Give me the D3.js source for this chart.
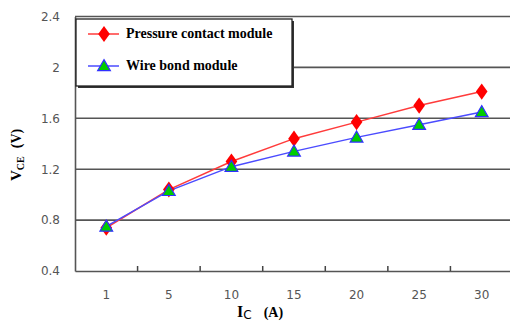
<!DOCTYPE html>
<html>
<head>
<meta charset="utf-8">
<script src="https://cdn.jsdelivr.net/npm/d3@7"></script>
<style>
  body { margin: 0; background: #fff; }
  svg { display: block; }
</style>
</head>
<body>
<svg width="510" height="323"></svg>
<script>
// data
var currents = ["1", "5", "10", "15", "20", "25", "30"]
var pressureContact = [0.74, 1.04, 1.26, 1.44, 1.57, 1.70, 1.81]
var wireBond = [0.75, 1.03, 1.22, 1.34, 1.45, 1.55, 1.65]
var yTicks = [0.4, 0.8, 1.2, 1.6, 2, 2.4]

var svg = d3.select("svg")
// note: "top" is a reserved window global, so plot* names
var plotLeft = 75, plotRight = 513, plotTop = 16.5, plotBottom = 271

var x = d3.scaleBand().domain(currents).range([plotLeft, plotRight])
var y = d3.scaleLinear().domain([0.4, 2.4]).range([plotBottom, plotTop])

// grid lines
svg.selectAll("line.grid")
  .data(yTicks.slice(1))
  .enter().append("line")
    .attr("class", "grid")
    .attr("x1", plotLeft).attr("x2", plotRight)
    .attr("y1", function(d) { return y(d) })
    .attr("y2", function(d) { return y(d) })
    .style("stroke", "#555")
    .style("stroke-width", 1.6)

// y axis
var yAxis = svg.append("g")
  .attr("transform", "translate(" + plotLeft + ",0)")
  .call(d3.axisLeft(y).tickValues(yTicks).tickSize(0).tickPadding(15)
    .tickFormat(function(d) { return d === 2 ? "2" : d3.format(".1f")(d) }))
yAxis.select(".domain").style("stroke", "#555").style("stroke-width", 1.6)
yAxis.selectAll("text")
  .style("font-family", "DejaVu Sans")
  .style("font-size", "12px")
  .style("fill", "#555")

// x axis, ticks between categories pointing up
var xAxis = svg.append("g")
  .attr("transform", "translate(0," + plotBottom + ")")
  .call(d3.axisBottom(x).tickSize(0).tickPadding(19))
xAxis.select(".domain").style("stroke", "#555").style("stroke-width", 1.6)
xAxis.selectAll("text")
  .style("font-family", "DejaVu Sans")
  .style("font-size", "12px")
  .style("fill", "#555")
xAxis.selectAll("line.sep")
  .data(currents.slice(1))
  .enter().append("line")
    .attr("class", "sep")
    .attr("x1", function(d) { return x(d) })
    .attr("x2", function(d) { return x(d) })
    .attr("y1", 0).attr("y2", -5)
    .style("stroke", "#444")
    .style("stroke-width", 1.5)

var cx = function(d, i) { return x(currents[i]) + x.bandwidth() / 2 }
var line = d3.line().x(cx).y(function(d) { return y(d) })

var diamond = d3.symbol().type(d3.symbolDiamond).size(75)
var triangle = d3.symbol().type(d3.symbolTriangle).size(70)

// series lines
svg.append("path").datum(pressureContact)
  .attr("d", line)
  .style("fill", "none").style("stroke", "#ff3b3b").style("stroke-width", 1.5)
svg.append("path").datum(wireBond)
  .attr("d", line)
  .style("fill", "none").style("stroke", "#4b4bff").style("stroke-width", 1.5)

// markers
svg.selectAll("path.pc")
  .data(pressureContact)
  .enter().append("path")
    .attr("class", "pc")
    .attr("d", diamond)
    .attr("transform", function(d, i) { return "translate(" + cx(d, i) + "," + y(d) + ") scale(1.25,1)" })
    .style("fill", "#ff0000")
svg.selectAll("path.wb")
  .data(wireBond)
  .enter().append("path")
    .attr("class", "wb")
    .attr("d", triangle)
    .attr("transform", function(d, i) { return "translate(" + cx(d, i) + "," + (y(d) + 1) + ")" })
    .style("fill", "#00cc00")
    .style("stroke", "#3030ff")
    .style("stroke-width", 1.2)

// legend with shadow
var lg = svg.append("g")
lg.append("rect")
  .attr("x", 78).attr("y", 21).attr("width", 216).attr("height", 67)
  .style("fill", "#333")
lg.append("rect")
  .attr("x", 76).attr("y", 19).attr("width", 216).attr("height", 67)
  .style("fill", "#fff").style("stroke", "#222").style("stroke-width", 1.3)

var legendItems = [
  { name: "Pressure contact module", color: "#ff3b3b", y: 34 },
  { name: "Wire bond module", color: "#4b4bff", y: 66 }
]
legendItems.forEach(function(it, i) {
  lg.append("line")
    .attr("x1", 88).attr("x2", 119).attr("y1", it.y).attr("y2", it.y)
    .style("stroke", it.color).style("stroke-width", 1.5)
  if (i === 0) {
    lg.append("path").attr("d", diamond)
      .attr("transform", "translate(104," + it.y + ") scale(1.25,1)")
      .style("fill", "#ff0000")
  } else {
    lg.append("path").attr("d", triangle)
      .attr("transform", "translate(104," + (it.y + 1) + ")")
      .style("fill", "#00cc00").style("stroke", "#3030ff").style("stroke-width", 1.2)
  }
  lg.append("text")
    .attr("x", 126).attr("y", it.y + 4)
    .style("font-family", "Liberation Serif")
    .style("font-weight", "bold")
    .style("font-size", "14px")
    .text(it.name)
})

// axis titles
var xt = svg.append("text")
  .attr("x", 237).attr("y", 317)
  .style("font-family", "Liberation Serif")
  .style("font-weight", "bold")
  .style("font-size", "16px")
xt.append("tspan").text("I")
xt.append("tspan").attr("dy", 2).style("font-size", "12px").style("font-weight", "normal")
  .style("font-family", "DejaVu Sans").text("C")
xt.append("tspan").attr("dy", -2).attr("dx", 12).style("font-size", "14px").text("(A)")

var yt = svg.append("text")
  .attr("transform", "translate(21,181) rotate(-90)")
  .style("font-family", "Liberation Serif")
  .style("font-weight", "bold")
  .style("font-size", "15px")
yt.append("tspan").text("V")
yt.append("tspan").attr("dy", 3).style("font-size", "10px").text("CE")
yt.append("tspan").attr("dy", -3).attr("dx", 8).style("font-size", "14px").text("(V)")
</script>
</body>
</html>
